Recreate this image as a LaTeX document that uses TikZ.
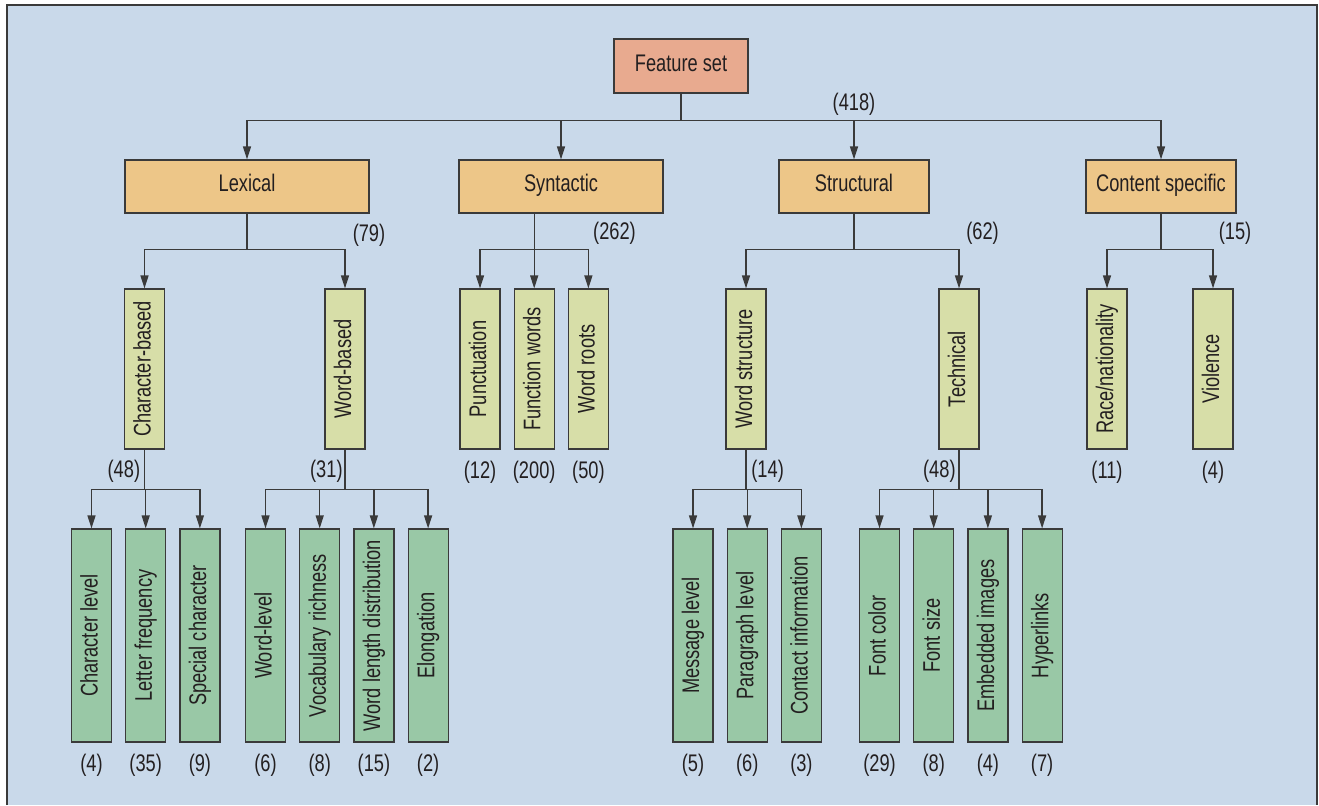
\documentclass[tikz,border=0pt]{standalone}
\usepackage{fontspec}
\setmainfont{Liberation Sans}[FakeStretch=0.76]
\usepackage{xcolor}
\usetikzlibrary{arrows.meta, positioning}
\definecolor{bgblue}{HTML}{C9D9EA}
\definecolor{rootfill}{HTML}{E8AA8F}
\definecolor{catfill}{HTML}{EDC688}
\definecolor{grpfill}{HTML}{D7DEA8}
\definecolor{leaffill}{HTML}{99C8A6}
\definecolor{linegray}{HTML}{3A3A3A}
\definecolor{textgray}{HTML}{231F20}
\newcommand{\up}[1]{\rotatebox{90}{\vphantom{Ag}#1}}

\begin{document}
\begin{tikzpicture}[
  x=0.5pt, y=-0.5pt,
  node distance = 6.5pt,
  box/.style   = {draw=linegray, line width=0.6pt, inner sep=0pt, align=center,
                  text=textgray, font=\fontsize{12}{14}\selectfont},
  root/.style  = {box, fill=rootfill, minimum width=67pt, minimum height=27pt,
                  text height=0.73em, text depth=0.21em},
  cat/.style   = {box, fill=catfill, minimum height=26.5pt,
                  text height=0.73em, text depth=0.21em},
  grp/.style   = {box, fill=grpfill, minimum width=20pt, minimum height=80pt},
  leaf/.style  = {box, fill=leaffill, minimum width=20pt, minimum height=106.5pt},
  num/.style   = {inner sep=0pt, text=textgray, font=\fontsize{12}{14}\selectfont},
  conn/.style  = {linegray, line width=0.65pt},
  arr/.style   = {conn, -{Triangle[length=6.5pt, width=4pt]}},
]
  \useasboundingbox (0,0) rectangle (1319,805);
  \fill[bgblue] (7,5) rectangle (1317,805);
  \draw[linegray, line width=0.7pt] (7,805) -- (7,5) -- (1317,5) -- (1317,805);

  % top two levels
  \node[root] (fs) at (681,66) {Feature set};
  \node[cat, minimum width=122pt] (lex) at (247,186.5)  {Lexical};
  \node[cat, minimum width=102pt] (syn) at (561,186.5)  {Syntactic};
  \node[cat, minimum width=75pt]  (str) at (854,186.5)  {Structural};
  \node[cat, minimum width=75pt]  (con) at (1161,186.5) {Content specific};

  % groups
  \node[grp] (chb) at (144.5,369) {\up{Character-based}};
  \node[grp] (wdb) at (345,369)   {\up{Word-based}};
  \node[grp] (pun) at (480,369)   {\up{Punctuation}};
  \node[grp, right=of pun] (fnw)  {\up{Function words}};
  \node[grp, right=of fnw] (wro)  {\up{Word roots}};
  \node[grp] (wst) at (746,369)   {\up{Word structure}};
  \node[grp] (tec) at (959,369)   {\up{Technical}};
  \node[grp] (rac) at (1107,369)  {\up{Race/nationality}};
  \node[grp] (vio) at (1213,369)  {\up{Violence}};

  % leaves
  \node[leaf] (chl) at (91.5,635.5) {\up{Character level}};
  \node[leaf, right=of chl] (lfq)   {\up{Letter frequency}};
  \node[leaf, right=of lfq] (spc)   {\up{Special character}};
  \node[leaf] (wdl) at (265.5,635.5) {\up{Word-level}};
  \node[leaf, right=of wdl] (voc)   {\up{Vocabulary richness}};
  \node[leaf, right=of voc] (wld)   {\up{Word length distribution}};
  \node[leaf, right=of wld] (elo)   {\up{Elongation}};
  \node[leaf] (msg) at (693,635.5)  {\up{Message level}};
  \node[leaf, right=of msg] (par)   {\up{Paragraph level}};
  \node[leaf, right=of par] (cti)   {\up{Contact information}};
  \node[leaf] (fco) at (879.5,635.5) {\up{Font color}};
  \node[leaf, right=of fco] (fsz)   {\up{Font size}};
  \node[leaf, right=of fsz] (emb)   {\up{Embedded images}};
  \node[leaf, right=of emb] (hyp)   {\up{Hyperlinks}};

  % connectors
  \draw[conn] (fs.south) -- ++(0,27) coordinate (fsb);
  \draw[arr] (fsb) -| (lex.north);
  \draw[arr] (fsb) -| (syn.north);
  \draw[arr] (fsb) -| (str.north);
  \draw[arr] (fsb) -| (con.north);

  \draw[conn] (lex.south) -- ++(0,36) coordinate (lexb);
  \draw[arr] (lexb) -| (chb.north);
  \draw[arr] (lexb) -| (wdb.north);
  \draw[conn] (syn.south -| fnw.north) -- ++(0,36) coordinate (synb);
  \draw[arr] (synb) -- (fnw.north);
  \draw[arr] (synb) -| (pun.north);
  \draw[arr] (synb) -| (wro.north);
  \draw[conn] (str.south) -- ++(0,36) coordinate (strb);
  \draw[arr] (strb) -| (wst.north);
  \draw[arr] (strb) -| (tec.north);
  \draw[conn] (con.south) -- ++(0,36) coordinate (conb);
  \draw[arr] (conb) -| (rac.north);
  \draw[arr] (conb) -| (vio.north);

  \draw[conn] (chb.south) -- ++(0,40) coordinate (chbb);
  \draw[arr] (chbb) -| (chl.north);
  \draw[arr] (chbb) -| (lfq.north);
  \draw[arr] (chbb) -| (spc.north);
  \draw[conn] (wdb.south) -- ++(0,40) coordinate (wdbb);
  \draw[arr] (wdbb) -| (wdl.north);
  \draw[arr] (wdbb) -| (voc.north);
  \draw[arr] (wdbb) -| (wld.north);
  \draw[arr] (wdbb) -| (elo.north);
  \draw[conn] (wst.south) -- ++(0,40) coordinate (wstb);
  \draw[arr] (wstb) -| (msg.north);
  \draw[arr] (wstb) -| (par.north);
  \draw[arr] (wstb) -| (cti.north);
  \draw[conn] (tec.south) -- ++(0,40) coordinate (tecb);
  \draw[arr] (tecb) -| (fco.north);
  \draw[arr] (tecb) -| (fsz.north);
  \draw[arr] (tecb) -| (emb.north);
  \draw[arr] (tecb) -| (hyp.north);

  % counts
  \node[num] (n418) at (854,104)  {(418)};
  \node[num] (n79)  at (369,235)  {(79)};
  \node[num] (n262) at (614.5,233) {(262)};
  \node[num] (n62)  at (982.5,233) {(62)};
  \node[num] (n15)  at (1235,233) {(15)};
  \node[num, below left=5pt and 2pt of chb.south]    (n48a) {(48)};
  \node[num, below left=5pt and 1pt of wdb.south]    (n31)  {(31)};
  \node[num, below right=5pt and 2.5pt of wst.south] (n14)  {(14)};
  \node[num, below left=5pt and 1.5pt of tec.south]  (n48b) {(48)};
  \node[num, below=5.5pt of pun] (n12)  {(12)};
  \node[num, below=5.5pt of fnw] (n200) {(200)};
  \node[num, below=5.5pt of wro] (n50)  {(50)};
  \node[num, below=5.5pt of rac] (n11)  {(11)};
  \node[num, below=5.5pt of vio] (n4a)  {(4)};
  \node[num, below=5.5pt of chl] (n4b)  {(4)};
  \node[num, below=5.5pt of lfq] (n35)  {(35)};
  \node[num, below=5.5pt of spc] (n9)   {(9)};
  \node[num, below=5.5pt of wdl] (n6a)  {(6)};
  \node[num, below=5.5pt of voc] (n8a)  {(8)};
  \node[num, below=5.5pt of wld] (n15b) {(15)};
  \node[num, below=5.5pt of elo] (n2)   {(2)};
  \node[num, below=5.5pt of msg] (n5)   {(5)};
  \node[num, below=5.5pt of par] (n6b)  {(6)};
  \node[num, below=5.5pt of cti] (n3)   {(3)};
  \node[num, below=5.5pt of fco] (n29)  {(29)};
  \node[num, below=5.5pt of fsz] (n8b)  {(8)};
  \node[num, below=5.5pt of emb] (n4c)  {(4)};
  \node[num, below=5.5pt of hyp] (n7)   {(7)};
\end{tikzpicture}
\end{document}
